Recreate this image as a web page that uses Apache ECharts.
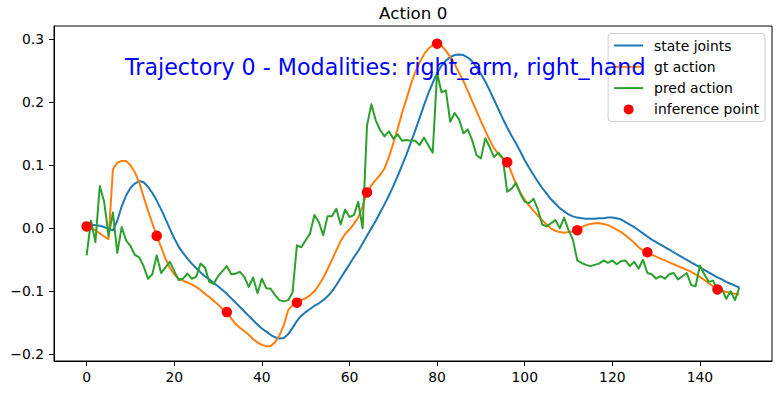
<!DOCTYPE html>
<html>
<head>
<meta charset="utf-8">
<script src="https://cdn.jsdelivr.net/npm/echarts@6/dist/echarts.min.js"></script>
<style>html,body{margin:0;padding:0;background:#fff}#c{width:781px;height:393px}</style>
</head>
<body>
<div id="c"></div>
<script>
const chartTitle = 'Action 0';
const annotation = 'Trajectory 0 - Modalities: right_arm, right_hand';
const seriesNames = ['state joints', 'gt action', 'pred action', 'inference point'];
const xTicks = [0, 20, 40, 60, 80, 100, 120, 140];
const yTicks = [-0.2, -0.1, 0.0, 0.1, 0.2, 0.3];
const inferenceSteps = [0, 16, 32, 48, 64, 80, 96, 112, 128, 144];

const stateJoints = [
0.007,0.006,0.005,0.004,0.002,-0.001,-0.003,0.012,0.035,0.052,
0.064,0.071,0.075,0.073,0.066,0.056,0.044,0.03,0.015,-0.001,
-0.016,-0.029,-0.039,-0.048,-0.056,-0.063,-0.07,-0.076,-0.081,-0.087,
-0.092,-0.098,-0.104,-0.111,-0.118,-0.125,-0.132,-0.139,-0.146,-0.153,
-0.159,-0.164,-0.169,-0.173,-0.175,-0.174,-0.168,-0.158,-0.147,-0.139,
-0.133,-0.128,-0.123,-0.119,-0.114,-0.108,-0.1,-0.09,-0.079,-0.068,
-0.057,-0.046,-0.036,-0.024,-0.012,0.0,0.012,0.025,0.038,0.052,
0.067,0.083,0.1,0.117,0.136,0.155,0.175,0.195,0.214,0.231,
0.246,0.258,0.266,0.272,0.275,0.276,0.275,0.271,0.265,0.256,
0.245,0.233,0.219,0.204,0.189,0.174,0.16,0.147,0.135,0.122,
0.108,0.096,0.085,0.074,0.064,0.055,0.046,0.039,0.032,0.027,
0.022,0.019,0.017,0.016,0.015,0.015,0.015,0.016,0.016,0.017,
0.017,0.016,0.014,0.01,0.006,0.002,-0.003,-0.008,-0.013,-0.018,
-0.022,-0.026,-0.03,-0.034,-0.038,-0.042,-0.046,-0.05,-0.054,-0.058,
-0.062,-0.066,-0.07,-0.074,-0.078,-0.081,-0.085,-0.088,-0.091,-0.094
];

const gtAction = [
0.003,0.0,-0.003,-0.008,-0.013,-0.017,0.094,0.104,0.107,0.107,
0.1,0.089,0.073,0.05,0.028,0.008,-0.012,-0.03,-0.048,-0.063,
-0.073,-0.08,-0.083,-0.086,-0.089,-0.093,-0.098,-0.104,-0.109,-0.115,
-0.121,-0.128,-0.133,-0.143,-0.152,-0.158,-0.163,-0.169,-0.176,-0.181,
-0.185,-0.187,-0.187,-0.181,-0.17,-0.154,-0.13,-0.122,-0.118,-0.114,
-0.111,-0.106,-0.1,-0.09,-0.079,-0.065,-0.05,-0.035,-0.02,-0.009,
-0.002,0.007,0.017,0.035,0.057,0.068,0.077,0.085,0.095,0.113,
0.135,0.158,0.183,0.205,0.228,0.248,0.263,0.276,0.285,0.291,
0.293,0.29,0.282,0.272,0.261,0.247,0.234,0.218,0.202,0.186,
0.17,0.155,0.14,0.127,0.118,0.111,0.105,0.088,0.07,0.057,
0.045,0.036,0.028,0.02,0.013,0.006,0.0,-0.004,-0.006,-0.007,
-0.006,-0.005,-0.003,0.002,0.005,0.007,0.008,0.008,0.007,0.005,
0.002,-0.002,-0.006,-0.011,-0.017,-0.023,-0.03,-0.035,-0.038,-0.042,
-0.045,-0.048,-0.051,-0.054,-0.057,-0.06,-0.063,-0.066,-0.069,-0.073,
-0.077,-0.082,-0.087,-0.092,-0.097,-0.099,-0.101,-0.102,-0.104,-0.105
];

const predAction = [
-0.043,0.012,-0.022,0.067,0.042,-0.012,0.025,-0.039,0.002,-0.019,
-0.028,-0.042,-0.046,-0.06,-0.08,-0.073,-0.043,-0.071,-0.062,-0.053,
-0.068,-0.082,-0.08,-0.072,-0.08,-0.077,-0.056,-0.062,-0.085,-0.088,
-0.076,-0.068,-0.06,-0.073,-0.072,-0.069,-0.077,-0.093,-0.078,-0.103,
-0.08,-0.095,-0.096,-0.106,-0.114,-0.116,-0.114,-0.102,-0.027,-0.03,
-0.019,-0.008,0.021,0.01,-0.011,0.019,0.019,0.031,0.006,0.03,
0.018,0.021,0.042,0.0,0.163,0.197,0.171,0.156,0.146,0.154,
0.142,0.149,0.139,0.14,0.139,0.139,0.132,0.144,0.132,0.12,
0.247,0.216,0.219,0.169,0.183,0.173,0.151,0.157,0.14,0.116,
0.111,0.143,0.129,0.113,0.12,0.111,0.058,0.063,0.072,0.055,
0.042,0.04,0.047,0.03,0.006,0.003,0.008,0.013,0.0,0.017,
-0.003,-0.018,-0.051,-0.055,-0.058,-0.06,-0.058,-0.056,-0.051,-0.055,
-0.051,-0.057,-0.052,-0.051,-0.06,-0.053,-0.064,-0.05,-0.071,-0.073,
-0.08,-0.076,-0.08,-0.073,-0.071,-0.081,-0.076,-0.071,-0.09,-0.092,
-0.059,-0.073,-0.085,-0.083,-0.098,-0.096,-0.112,-0.1,-0.114,-0.094
];

const FONT = 'DejaVu Sans';
const lineColors = ['#1f77b4', '#ff7f0e', '#2ca02c'];
const toPairs = arr => arr.map((v, i) => [i, v]);
const fmtY = v => v.toFixed(1).replace('-', '\u2212');

const legendData = seriesNames.map((n, i) => i < 3
  ? {name: n, itemStyle: {opacity: 0}, lineStyle: {color: lineColors[i], width: 2, opacity: 1}}
  : {name: n, icon: 'circle'});

const chart = echarts.init(document.getElementById('c'), null, {renderer: 'svg'});
chart.setOption({
  animation: false,
  backgroundColor: '#ffffff',
  grid: {left: 54, right: 9, top: 26, bottom: 32, show: true, borderColor: '#000', borderWidth: 1, backgroundColor: 'transparent'},
  xAxis: {
    type: 'value', min: -7.45, max: 156.45,
    splitLine: {show: false},
    axisLine: {show: true, onZero: false, lineStyle: {color: '#000', width: 1}},
    axisTick: {show: true, length: 5, inside: false, lineStyle: {color: '#000', width: 1}, customValues: xTicks},
    axisLabel: {color: '#000', fontSize: 13.9, fontFamily: FONT, margin: 9, customValues: xTicks, formatter: v => String(v)}
  },
  yAxis: {
    type: 'value', min: -0.2106, max: 0.3211,
    splitLine: {show: false},
    axisLine: {show: true, onZero: false, lineStyle: {color: '#000', width: 1}},
    axisTick: {show: true, length: 5, inside: false, lineStyle: {color: '#000', width: 1}, customValues: yTicks},
    axisLabel: {color: '#000', fontSize: 13.9, fontFamily: FONT, margin: 10, customValues: yTicks, formatter: fmtY}
  },
  legend: {
    orient: 'vertical', right: 16, top: 33.5,
    padding: [5, 6, 5, 5],
    itemWidth: 29, itemHeight: 10, itemGap: 7.3,
    backgroundColor: 'rgba(255,255,255,0.8)',
    borderColor: '#cccccc', borderWidth: 1, borderRadius: 3,
    textStyle: {fontSize: 13.9, fontFamily: FONT, color: '#000', padding: [0, 0, 0, 6]},
    data: legendData,
    selectedMode: false
  },
  graphic: [
    {type: 'text', x: 413.2, y: 12.5, z: 100,
     style: {text: chartTitle, fontSize: 16.7, fontFamily: FONT, fill: '#000', align: 'center', verticalAlign: 'middle'}},
    {type: 'text', x: 125, y: 67, z: 100,
     style: {text: annotation, fontSize: 22.2, fontFamily: FONT, fill: '#0000ff', align: 'left', verticalAlign: 'middle'}}
  ],
  series: [
    {name: seriesNames[0], type: 'line', data: toPairs(stateJoints), symbol: 'none', showSymbol: false,
     lineStyle: {color: lineColors[0], width: 2, join: 'round'}, itemStyle: {color: lineColors[0]}, z: 2},
    {name: seriesNames[1], type: 'line', data: toPairs(gtAction), symbol: 'none', showSymbol: false,
     lineStyle: {color: lineColors[1], width: 2, join: 'round'}, itemStyle: {color: lineColors[1]}, z: 3},
    {name: seriesNames[2], type: 'line', data: toPairs(predAction), symbol: 'none', showSymbol: false,
     lineStyle: {color: lineColors[2], width: 2, join: 'round'}, itemStyle: {color: lineColors[2]}, z: 4},
    {name: seriesNames[3], type: 'scatter', data: inferenceSteps.map(s => [s, gtAction[s]]),
     symbol: 'circle', symbolSize: 10.5, itemStyle: {color: '#ff0000', opacity: 1}, z: 5}
  ]
});
</script>
</body>
</html>
